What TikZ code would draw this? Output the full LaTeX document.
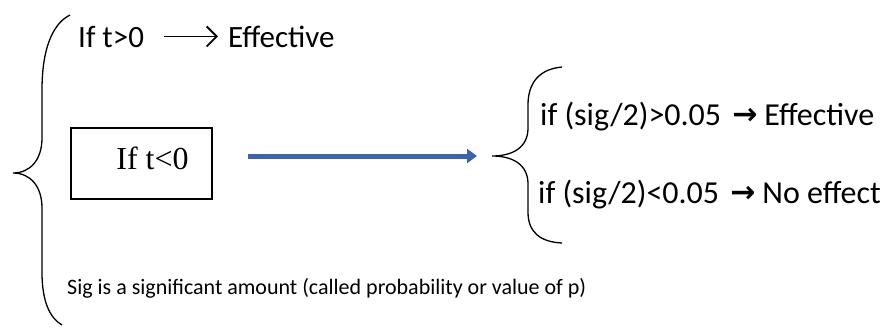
\documentclass[tikz,border=0pt]{standalone}
\usepackage{fontspec}
\setmainfont{Carlito}
\newfontfamily\serifbox{Liberation Serif}
\newfontfamily\arrowsym{DejaVu Sans}
\usepackage{tikz}
\usetikzlibrary{arrows.meta}
\definecolor{arrowblue}{HTML}{3C64AE}
\newcommand{\thickarr}{\hspace{11pt}\raisebox{1pt}{\arrowsym\bfseries\fontsize{30}{36}\selectfont →}\hspace{7pt}}

\begin{document}
\begin{tikzpicture}[x=1pt, y=-1pt,
  big/.style={anchor=base west, inner sep=0pt, font=\fontsize{31}{37}\selectfont},
  small/.style={anchor=base west, inner sep=0pt, font=\fontsize{22}{26}\selectfont},
  brace/.style={draw, line width=1.3pt}]
\useasboundingbox (0,0) rectangle (887,327);

% left brace
\draw[brace] (70,15) .. controls (52,24) and (42,50) .. (42,90) -- (42,138)
  .. controls (42,160) and (30,173) .. (13,173)
  .. controls (30,173) and (42,186) .. (42,208) -- (42,272)
  .. controls (42,302) and (50,318) .. (62,325);

\node (cond) [big] at (78,47) {If t>0};
\node (result) [big] at (228,47) {Effective};
\draw[line width=1.8pt, -{Straight Barb[length=10pt,width=20pt,line width=1.8pt]},
  shorten <=20pt, shorten >=10pt] (cond.east) -- (cond.east -| result.west);

\node (neg) [draw, line width=1.1pt, minimum width=141pt, minimum height=71pt,
  text depth=10pt, font=\serifbox\fontsize{32}{38}\selectfont] at (141.5,163.5) {\hspace*{22pt}If t<0};
\node (note) [small] at (67,294) {Sig is a significant amount (called probability or value of p)};

% blue arrow
\coordinate (arrS) at (248,156);
\coordinate (arrE) at (477,156);
\draw[line width=5pt, arrowblue, -{Triangle[length=10pt,width=14pt]}] (arrS) -- (arrE);

% right brace
\draw[brace] (562,67) .. controls (540,69) and (528,82) .. (528,105) -- (528,128)
  .. controls (528,148) and (512,156) .. (492,156)
  .. controls (512,156) and (528,164) .. (528,184) -- (528,212)
  .. controls (528,232) and (540,242) .. (562,243);

\node (eff) [big, font=\fontsize{32}{38}\selectfont] at (540,125) {if (sig/2)>0.05\thickarr{}Effective};
\node (noeff) [big, font=\fontsize{32}{38}\selectfont] at (538,203) {if (sig/2)<0.05\thickarr{}No effect};
\end{tikzpicture}
\end{document}
